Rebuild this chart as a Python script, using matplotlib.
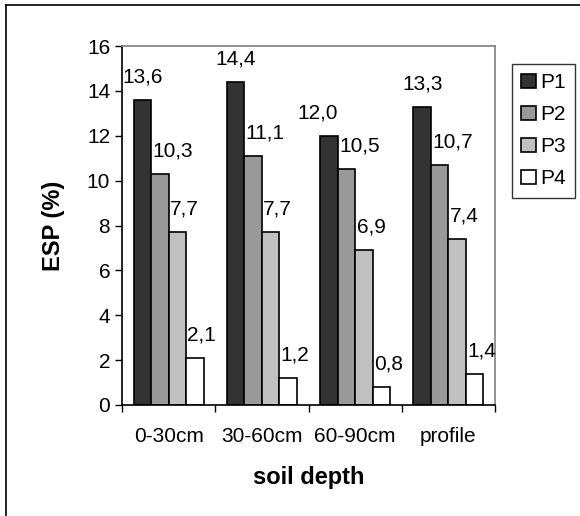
import matplotlib.pyplot as plt
import numpy as np
from matplotlib.lines import Line2D
from matplotlib.patches import Patch

plt.rcParams['font.family'] = ['Liberation Sans', 'DejaVu Sans']

depths = ["0-30cm", "30-60cm", "60-90cm", "profile"]
series = ["P1", "P2", "P3", "P4"]
p1 = [13.6, 14.4, 12.0, 13.3]
p2 = [10.3, 11.1, 10.5, 10.7]
p3 = [7.7, 7.7, 6.9, 7.4]
p4 = [2.1, 1.2, 0.8, 1.4]
colors = ["#333333", "#999999", "#c0c0c0", "#ffffff"]

fig = plt.figure(figsize=(5.8, 5.16), dpi=100)
ax = fig.add_axes([122/580, 1-405/516, (495-122)/580, (405-46)/516])

x = np.arange(len(depths))
w = 0.75 / 4
for i, vals in enumerate([p1, p2, p3, p4]):
    pos = x - 0.375 + w/2 + i*w
    ax.bar(pos, vals, width=w, color=colors[i], edgecolor="black", linewidth=1.2)
    for j, (px, v) in enumerate(zip(pos, vals)):
        txt = f"{v:.1f}".replace(".", ",")
        if i == 0:
            # P1 labels sit centred over the bar (12,0 was pushed left)
            if j == 2:
                ax.annotate(txt, (px + w/2, v), xytext=(0, 12.6), textcoords="offset points",
                            ha="right", va="baseline", fontsize=15)
            else:
                ax.annotate(txt, (px, v), xytext=(0, 12.6), textcoords="offset points",
                            ha="center", va="baseline", fontsize=15)
        else:
            ax.annotate(txt, (px - w/2, v), xytext=(1, 12.6), textcoords="offset points",
                        ha="left", va="baseline", fontsize=15)

ax.set_xlim(-0.5, 3.5)
ax.set_ylim(0, 16)
ax.set_yticks(range(0, 17, 2))
ax.tick_params(axis="y", labelsize=15, direction="out", length=5, width=1)
ax.set_xticks(np.arange(-0.5, 4, 1))
ax.set_xticklabels([])
ax.tick_params(axis="x", which="major", direction="out", length=5, width=1)
ax.set_xticks(x, minor=True)
ax.set_xticklabels(depths, minor=True)
ax.tick_params(axis="x", which="minor", length=0, labelsize=15, pad=16)

for s in ["top", "right"]:
    ax.spines[s].set_color("#808080")
    ax.spines[s].set_linewidth(1.2)
for s in ["left", "bottom"]:
    ax.spines[s].set_linewidth(1.2)

ax.set_xlabel("soil depth", fontsize=17, fontweight="bold", labelpad=14)
ax.set_ylabel("ESP (%)", fontsize=17, fontweight="bold", labelpad=16)

handles = [Patch(facecolor=c, edgecolor="black", linewidth=1.2) for c in colors]
leg = fig.legend(handles, series, loc="upper left", bbox_to_anchor=(512/580, 1-64/516),
                 fontsize=15, frameon=True, fancybox=False, borderaxespad=0,
                 handlelength=0.7, handleheight=0.7, handletextpad=0.2,
                 labelspacing=0.62, borderpad=0.45)
leg.get_frame().set_edgecolor("black")
leg.get_frame().set_linewidth(1.0)

fig.add_artist(Line2D([6/580, 1.0], [1-5/516, 1-5/516], color="black", linewidth=1.2))
fig.add_artist(Line2D([6/580, 6/580], [0.0, 1-5/516], color="black", linewidth=1.2))

fig.savefig("out.png", dpi=100)
